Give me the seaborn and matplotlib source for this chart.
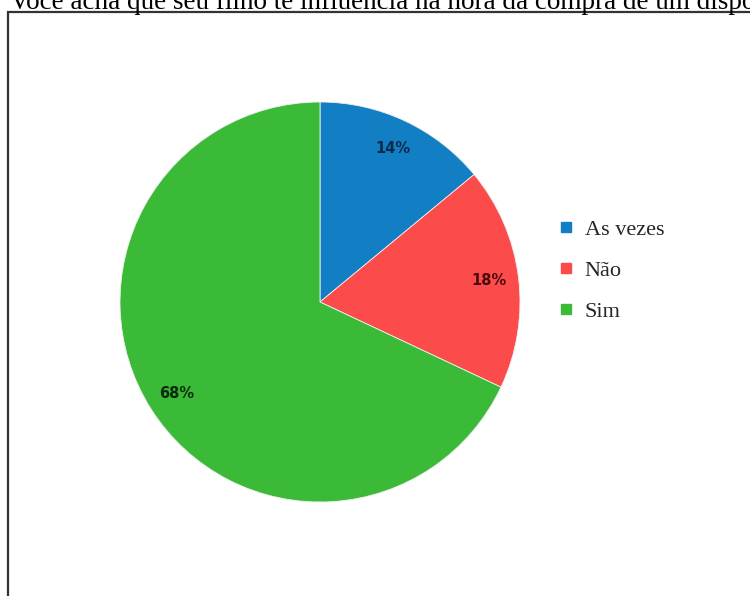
import seaborn as sns
import matplotlib.pyplot as plt
from matplotlib.patches import Rectangle
from matplotlib.lines import Line2D

title = 'Você acha que seu filho te influencia na hora da compra de um dispositivo?'
categories = ['As vezes', 'Não', 'Sim']
values = [14, 18, 68]
colors = ['#127ec4', '#fb4b4b', '#3bba38']
label_colors = ['#0a2a4a', '#4a0a0a', '#0a2a0a']

sns.set_theme(style='white')
plt.rcParams['font.family'] = ['DejaVu Sans']

W, H = 750, 596
fig = plt.figure(figsize=(W / 100, H / 100), dpi=100)

# frame of the screenshot box
fig.patches.append(Rectangle((8 / W, -0.1), 1.2, 1 - 11.5 / H + 0.1,
                             transform=fig.transFigure, fill=False,
                             edgecolor='#333333', linewidth=1.6))

# title, clipped by the top edge as in the screenshot
fig.text(10 / W, 1 - 9 / H, title, fontsize=19.5, family='Liberation Serif',
         color='black', va='baseline', ha='left')

cx, cy, r = 320, 302, 200
ax = fig.add_axes([(cx - r) / W, (H - cy - r) / H, 2 * r / W, 2 * r / H])
wedges, texts, autotexts = ax.pie(values, colors=colors, startangle=90, counterclock=False,
                                  autopct='%d%%', pctdistance=0.85,
                                  wedgeprops=dict(linewidth=0.6, edgecolor='#f0f0f0'),
                                  textprops=dict(fontsize=10.5, fontweight='bold'))
for t, c in zip(autotexts, label_colors):
    t.set_color(c)
ax.set_xlim(-1, 1)
ax.set_ylim(-1, 1)
ax.set_aspect('equal')

handles = [Line2D([], [], marker='s', linestyle='none', markersize=6.5,
                  markerfacecolor=c, markeredgecolor=c) for c in colors]
fig.legend(handles, categories, loc='upper left', bbox_to_anchor=(559 / W, 1 - 219 / H),
           frameon=False, prop={'family': 'Liberation Serif', 'size': 16},
           borderpad=0, borderaxespad=0, labelspacing=0.92,
           handletextpad=0.55, handlelength=0.6)

fig.savefig('out.png', dpi=100)
